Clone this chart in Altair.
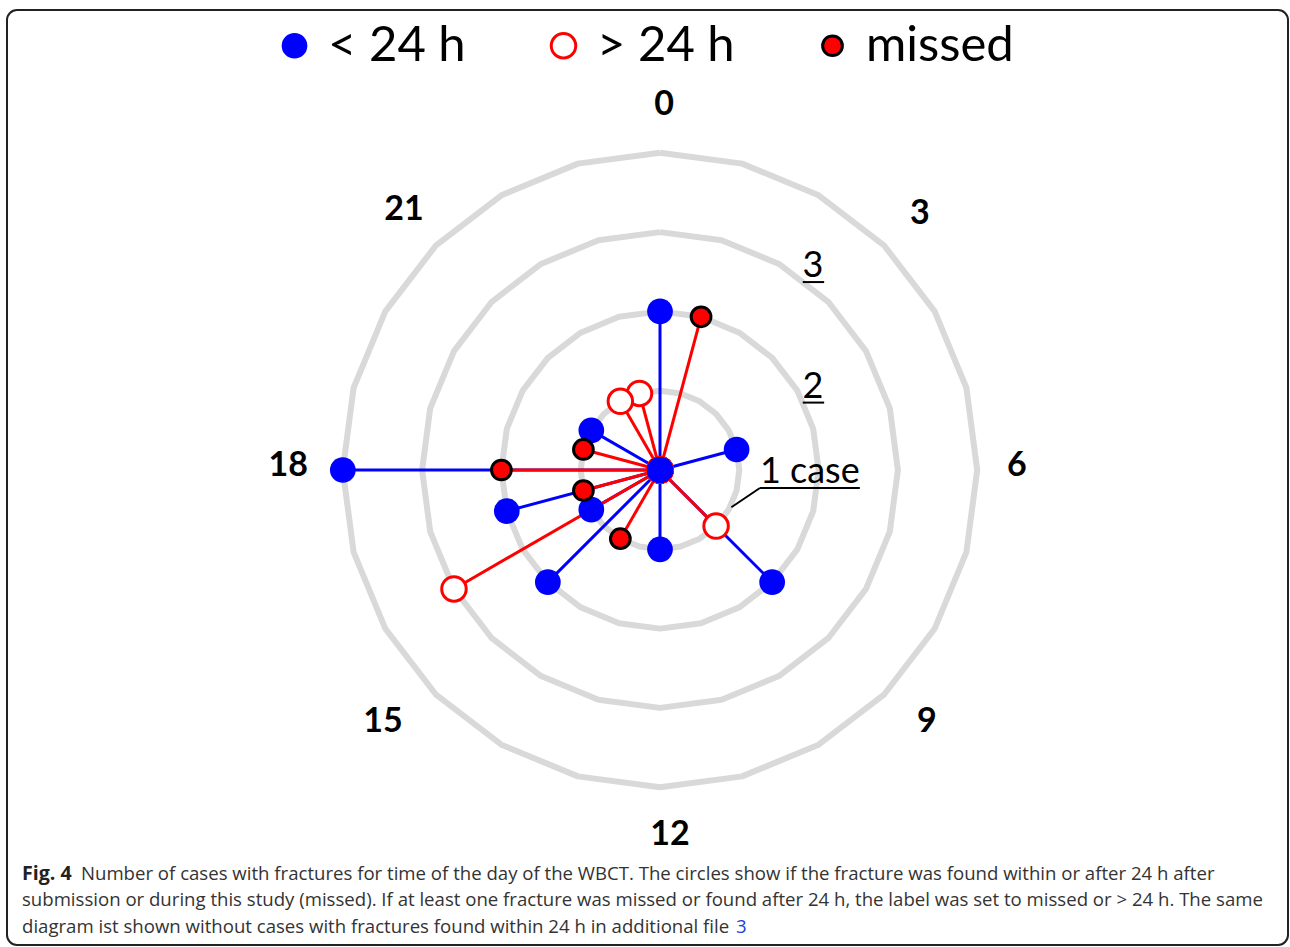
import altair as alt
import pandas as pd

# ---------------- data ----------------
HOURS = list(range(24))
LT24 = [2, 0, 0, 0, 0, 1, 0, 0, 0, 2, 0, 0, 1, 0, 0, 2, 1, 2, 4, 0, 1, 0, 0, 0]
GT24 = [0, 0, 0, 0, 0, 0, 0, 0, 0, 1, 0, 0, 0, 0, 0, 0, 3, 0, 0, 0, 0, 0, 1, 1]
MISSED = [0, 2, 0, 0, 0, 0, 0, 0, 0, 0, 0, 0, 0, 0, 1, 0, 0, 1, 2, 1, 0, 0, 0, 0]
CATEGORIES = ["< 24 h", "> 24 h", "missed"]
RINGS = [1, 2, 3, 4]
HOUR_LABELS = [0, 3, 6, 9, 12, 15, 18, 21]
# small pixel nudges of the hour labels, as placed in the original figure
HOUR_LABEL_DX = [4, 2, -8, 9, 10, -19, -7, 2]
HOUR_LABEL_DY = [0, 2, -4, -6, 0, -6, -4, -2]
RING_LABEL_TEXT = ["3", "2", "1 case"]
RING_LABEL_X = [1.93, 1.93, 1.26]
RING_LABEL_Y = [2.43, 0.91, -0.165]
RING_LABEL_ALIGN = ["center", "center", "left"]
UNDERLINE_X = [1.80, 1.80, 1.26]
UNDERLINE_X2 = [2.07, 2.07, 2.52]
UNDERLINE_Y = [2.37, 0.85, -0.227]
CAPTION = [
    "Number of cases with fractures for time of the day of the WBCT. The circles show if the fracture was found within or after 24 h after",
    "submission or during this study (missed). If at least one fracture was missed or found after 24 h, the label was set to missed or > 24 h. The same",
    "diagram ist shown without cases with fractures found within 24 h in additional file",
]

# ---------------- tables ----------------
series = {"< 24 h": LT24, "> 24 h": GT24, "missed": MISSED}
rows = []
for cat in ["> 24 h", "< 24 h", "missed"]:
    for h in reversed(HOURS):
        c = series[cat][h]
        if c > 0 or cat != "missed":
            rows.append({"category": cat, "hour": h, "cases": c})
points_df = pd.DataFrame(rows)

rule_rows = []
for cat in ["< 24 h", "> 24 h", "missed"]:
    for h in HOURS:
        c = series[cat][h]
        if c > 0:
            rule_rows.append({"category": cat, "hour": h, "cases": c})
rules_df = pd.DataFrame(rule_rows)

ring_df = pd.DataFrame([{"ring": r, "v": v} for r in RINGS for v in range(25)])
hour_df = pd.DataFrame({"hour": HOUR_LABELS, "label": [str(h) for h in HOUR_LABELS],
                        "dx": HOUR_LABEL_DX, "dy": HOUR_LABEL_DY})
rlab_df = pd.DataFrame({"text": RING_LABEL_TEXT, "x": RING_LABEL_X, "y": RING_LABEL_Y,
                        "align": RING_LABEL_ALIGN})
uline_df = pd.DataFrame({"x": UNDERLINE_X, "x2": UNDERLINE_X2, "y": UNDERLINE_Y})

# ---------------- scales ----------------
W, H = 1290, 947
CX, CY, PX = 660, 470, 79.3
xs = alt.Scale(domain=[-CX / PX, (W - CX) / PX], nice=False, zero=False)
ys = alt.Scale(domain=[(CY - H) / PX, CY / PX], nice=False, zero=False)
X = lambda f: alt.X(f, scale=xs, axis=None)
Y = lambda f: alt.Y(f, scale=ys, axis=None)

polar = dict(
    px="datum.cases * sin(datum.hour * PI / 12)",
    py="datum.cases * cos(datum.hour * PI / 12)",
)

rings = alt.Chart(ring_df).transform_calculate(
    px="datum.ring * sin(datum.v * PI / 12)",
    py="datum.ring * cos(datum.v * PI / 12)",
).mark_line(stroke="#d9d9d9", strokeWidth=6, strokeJoin="round").encode(
    x=X("px:Q"), y=Y("py:Q"), detail="ring:N", order="v:Q"
)

spokes = alt.Chart(rules_df).transform_calculate(x0="0", y0="0", **polar).mark_rule(
    strokeWidth=3
).encode(
    x=X("px:Q"), y=Y("py:Q"), x2="x0:Q", y2="y0:Q",
    stroke=alt.condition(alt.datum.category == "< 24 h", alt.value("#0000ff"), alt.value("#ff0000")),
)

leg = alt.Legend(
    orient="none", legendX=270, legendY=21, direction="horizontal", title=None,
    labelFontSize=49, labelFont="Lato", labelColor="black", labelOffset=9,
    columnPadding=73, symbolType="circle", labelLimit=400,
)
dots = alt.Chart(points_df).transform_calculate(**polar).mark_point(
    shape="circle", opacity=1, fillOpacity=1
).encode(
    x=X("px:Q"), y=Y("py:Q"),
    fill=alt.Fill("category:N", scale=alt.Scale(domain=CATEGORIES, range=["#0000ff", "#ffffff", "#ff0000"]), legend=leg),
    stroke=alt.Stroke("category:N", scale=alt.Scale(domain=CATEGORIES, range=["#0000ff", "#ff0000", "#000000"]), legend=leg),
    size=alt.Size("category:N", scale=alt.Scale(type="ordinal", domain=CATEGORIES, range=[660, 600, 390]), legend=leg),
    strokeWidth=alt.StrokeWidth("category:N", scale=alt.Scale(type="ordinal", domain=CATEGORIES, range=[0, 3, 3]), legend=leg),
)

hour_text = alt.Chart(hour_df).transform_calculate(
    px="4.6 * sin(datum.hour * PI / 12) + datum.dx / 79.3",
    py="4.6 * cos(datum.hour * PI / 12) - datum.dy / 79.3",
).mark_text(font="Lato", fontSize=34, fontWeight="bold", color="black", baseline="middle").encode(
    x=X("px:Q"), y=Y("py:Q"), text="label:N"
)

rlab_c = alt.Chart(rlab_df).transform_filter(alt.datum.align == "center").mark_text(
    font="Lato", fontSize=36, color="black", align="center", baseline="alphabetic"
).encode(x=X("x:Q"), y=Y("y:Q"), text="text:N")
rlab_l = alt.Chart(rlab_df).transform_filter(alt.datum.align == "left").mark_text(
    font="Lato", fontSize=36, color="black", align="left", baseline="alphabetic"
).encode(x=X("x:Q"), y=Y("y:Q"), text="text:N")
ulines = alt.Chart(uline_df).mark_rule(color="black", strokeWidth=2).encode(
    x=X("x:Q"), x2="x2:Q", y=Y("y:Q")
)
leader = alt.Chart(pd.DataFrame({"x": [1.26], "y": [-0.227], "x2": [0.90], "y2": [-0.47]})).mark_rule(
    color="black", strokeWidth=2
).encode(x=X("x:Q"), y=Y("y:Q"), x2="x2:Q", y2="y2:Q")

one = alt.Data(values=[{}])
cap_font = "Open Sans"
cap_size = 18.6
cap = [
    alt.Chart(one).mark_text(font=cap_font, fontSize=cap_size + 1, fontWeight="bold", color="#222",
                             align="left", baseline="alphabetic", text="Fig. 4").encode(
        x=alt.value(22), y=alt.value(880)),
    alt.Chart(one).mark_text(font=cap_font, fontSize=cap_size, color="#333", align="left",
                             baseline="alphabetic", text=CAPTION[0]).encode(x=alt.value(81), y=alt.value(880)),
    alt.Chart(one).mark_text(font=cap_font, fontSize=cap_size, color="#333", align="left",
                             baseline="alphabetic", text=CAPTION[1]).encode(x=alt.value(22), y=alt.value(906)),
    alt.Chart(one).mark_text(font=cap_font, fontSize=cap_size, color="#333", align="left",
                             baseline="alphabetic", text=CAPTION[2]).encode(x=alt.value(22), y=alt.value(933)),
    alt.Chart(one).mark_text(font=cap_font, fontSize=cap_size, color="#1a3fd6", align="left",
                             baseline="alphabetic", text="3").encode(x=alt.value(736), y=alt.value(933)),
]

border = alt.Chart(one).mark_rect(fillOpacity=0, stroke="#222", strokeWidth=2, cornerRadius=10).encode(
    x=alt.value(7), x2=alt.value(1288), y=alt.value(10), y2=alt.value(945)
)

chart = alt.layer(
    border, rings, spokes, dots, hour_text, rlab_c, rlab_l, ulines, leader, *cap
).properties(
    width=W, height=H, padding=0, autosize=alt.AutoSizeParams(type="none"), background="white"
).configure_view(strokeWidth=0)

chart.save("out.html", embed_options={"renderer": "svg", "actions": False})
